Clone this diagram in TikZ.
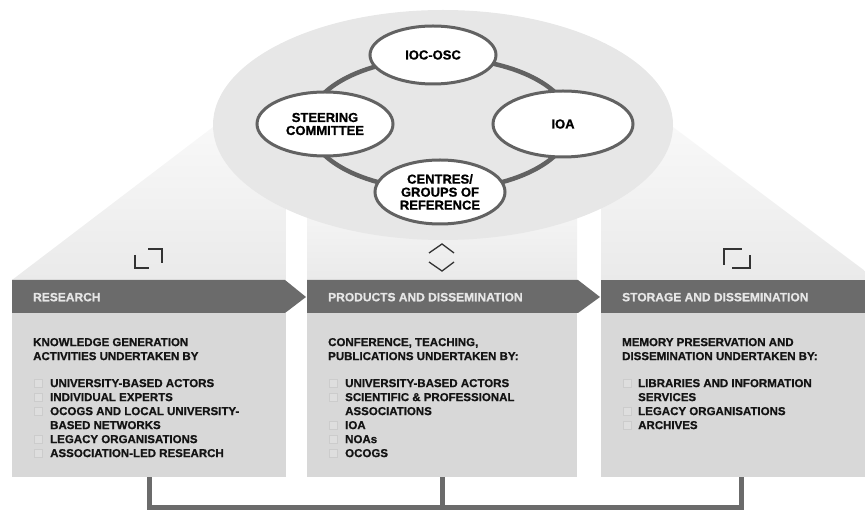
\documentclass[tikz,border=0pt]{standalone}
\usepackage{fontspec}
\setmainfont{Liberation Sans}[BoldFeatures={FakeBold=0.9}]
\usetikzlibrary{shapes.geometric}
\definecolor{bargrey}{HTML}{6B6B6B}
\definecolor{boxgrey}{HTML}{D8D8D8}
\definecolor{ellgrey}{HTML}{E7E7E7}
\definecolor{coltop}{HTML}{F8F8F8}
\definecolor{colbot}{HTML}{EAEAEA}
\definecolor{ringgrey}{HTML}{626262}
\definecolor{headtxt}{HTML}{E6E6E6}
\tikzset{
	oval/.style={ellipse, draw=ringgrey, line width=3pt, fill=white, inner sep=0pt, align=center, font=\bfseries\fontsize{13}{13}\selectfont},
	ring/.style={draw=ringgrey, line width=4.5pt},
	bar/.style={fill=bargrey},
	bodybox/.style={rectangle, fill=boxgrey, inner sep=0pt},
	headtxt/.style={anchor=west, inner sep=0pt, text=headtxt, text height=8.6pt, text depth=0pt, font=\bfseries\fontsize{12}{14}\selectfont},
	txt/.style={anchor=west, inner sep=0pt, text=black!92, text height=8.2pt, text depth=0pt, font=\bfseries\fontsize{11.5}{14}\selectfont},
	bul/.style={rectangle, draw=black!20, fill=black!13, line width=0.6pt, minimum size=8pt, inner sep=0pt},
	icon/.style={draw=black!80, line width=1.3pt},
	link/.style={draw=bargrey, line width=5pt}
}
\begin{document}
\begin{tikzpicture}[x=1pt,y=-1pt]
	\useasboundingbox (0,0) rectangle (865,510);
	\shade[top color=coltop, bottom color=colbot] (12,280) -- (213,127) -- (286,127) -- (286,280) -- cycle;
	\shade[top color=coltop, bottom color=colbot] (307,190) rectangle (577,280);
	\shade[top color=coltop, bottom color=colbot] (601,280) -- (601,127) -- (673,127) -- (865,271) -- (865,280) -- cycle;
	\fill[ellgrey] (443,125) ellipse [x radius=230, y radius=115];
	\coordinate (ringc) at (440,124);
	\draw[ring] (ringc) ellipse [x radius=131, y radius=66];
	\node[oval, minimum width=126pt, minimum height=58pt] (ioc) at (433,55) {IOC-OSC};
	\node[oval, minimum width=136pt, minimum height=64pt] (steer) at (325,124) {STEERING\\COMMITTEE};
	\node[oval, minimum width=140pt, minimum height=66pt] (ioa) at (563,124) {IOA};
	\node[oval, minimum width=130pt, minimum height=64pt] (centres) at (440,192) {CENTRES/\\GROUPS OF\\REFERENCE};
	\draw[icon] (135,255) -- (135,268) -- (149,268) (148,249) -- (162,249) -- (162,263);
	\draw[icon] (429,253) -- (442,244) -- (454,253) (429,262) -- (442,271) -- (454,262);
	\draw[icon] (724,265) -- (724,249) -- (742,249) (732,268) -- (750,268) -- (750,255);
	\fill[bar] (12,280) -- (285,280) -- (306,297) -- (285,313) -- (12,313) -- cycle;
	\fill[bar] (307,280) -- (578,280) -- (600,297) -- (578,313) -- (307,313) -- cycle;
	\fill[bar] (601,280) rectangle (881,313);
	\node[headtxt] (reshead) at (33,297) {RESEARCH};
	\node[headtxt] (prodhead) at (328,297) {PRODUCTS AND DISSEMINATION};
	\node[headtxt] (storhead) at (622,297) {STORAGE AND DISSEMINATION};
	\node[bodybox, minimum width=274pt, minimum height=164pt] (resbox) at (149,395) {};
	\node[bodybox, minimum width=270pt, minimum height=164pt] (prodbox) at (442,395) {};
	\node[bodybox, minimum width=280pt, minimum height=164pt] (storbox) at (741,395) {};
	\node[txt] (r0a) at (33,342) {KNOWLEDGE GENERATION};
	\node[txt] (r0b) at (33,356) {ACTIVITIES UNDERTAKEN BY};
	\node[bul] (rb1) at (38,383) {};
	\node[txt] (r1) at (50,383) {UNIVERSITY-BASED ACTORS};
	\node[bul] (rb2) at (38,397) {};
	\node[txt] (r2) at (50,397) {INDIVIDUAL EXPERTS};
	\node[bul] (rb3) at (38,411) {};
	\node[txt] (r3a) at (50,411) {OCOGS AND LOCAL UNIVERSITY-};
	\node[txt] (r3b) at (50,425) {BASED NETWORKS};
	\node[bul] (rb4) at (38,439) {};
	\node[txt] (r4) at (50,439) {LEGACY ORGANISATIONS};
	\node[bul] (rb5) at (38,453) {};
	\node[txt] (r5) at (50,453) {ASSOCIATION-LED RESEARCH};
	\node[txt] (p0a) at (328,342) {CONFERENCE, TEACHING,};
	\node[txt] (p0b) at (328,356) {PUBLICATIONS UNDERTAKEN BY:};
	\node[bul] (pb1) at (333,383) {};
	\node[txt] (p1) at (345,383) {UNIVERSITY-BASED ACTORS};
	\node[bul] (pb2) at (333,397) {};
	\node[txt] (p2a) at (345,397) {SCIENTIFIC \& PROFESSIONAL};
	\node[txt] (p2b) at (345,411) {ASSOCIATIONS};
	\node[bul] (pb3) at (333,425) {};
	\node[txt] (p3) at (345,425) {IOA};
	\node[bul] (pb4) at (333,439) {};
	\node[txt] (p4) at (345,439) {NOAs};
	\node[bul] (pb5) at (333,453) {};
	\node[txt] (p5) at (345,453) {OCOGS};
	\node[txt] (s0a) at (622,342) {MEMORY PRESERVATION AND};
	\node[txt] (s0b) at (622,356) {DISSEMINATION UNDERTAKEN BY:};
	\node[bul] (sb1) at (627,383) {};
	\node[txt] (s1a) at (638,383) {LIBRARIES AND INFORMATION};
	\node[txt] (s1b) at (638,397) {SERVICES};
	\node[bul] (sb2) at (627,411) {};
	\node[txt] (s2) at (638,411) {LEGACY ORGANISATIONS};
	\node[bul] (sb3) at (627,425) {};
	\node[txt] (s3) at (638,425) {ARCHIVES};
	\coordinate (bus) at (0,507);
	\draw[link] (resbox.south) -- (resbox.south |- bus) -- (storbox.south |- bus) -- (storbox.south);
	\draw[link] (prodbox.south) -- (prodbox.south |- bus);
\end{tikzpicture}
\end{document}
